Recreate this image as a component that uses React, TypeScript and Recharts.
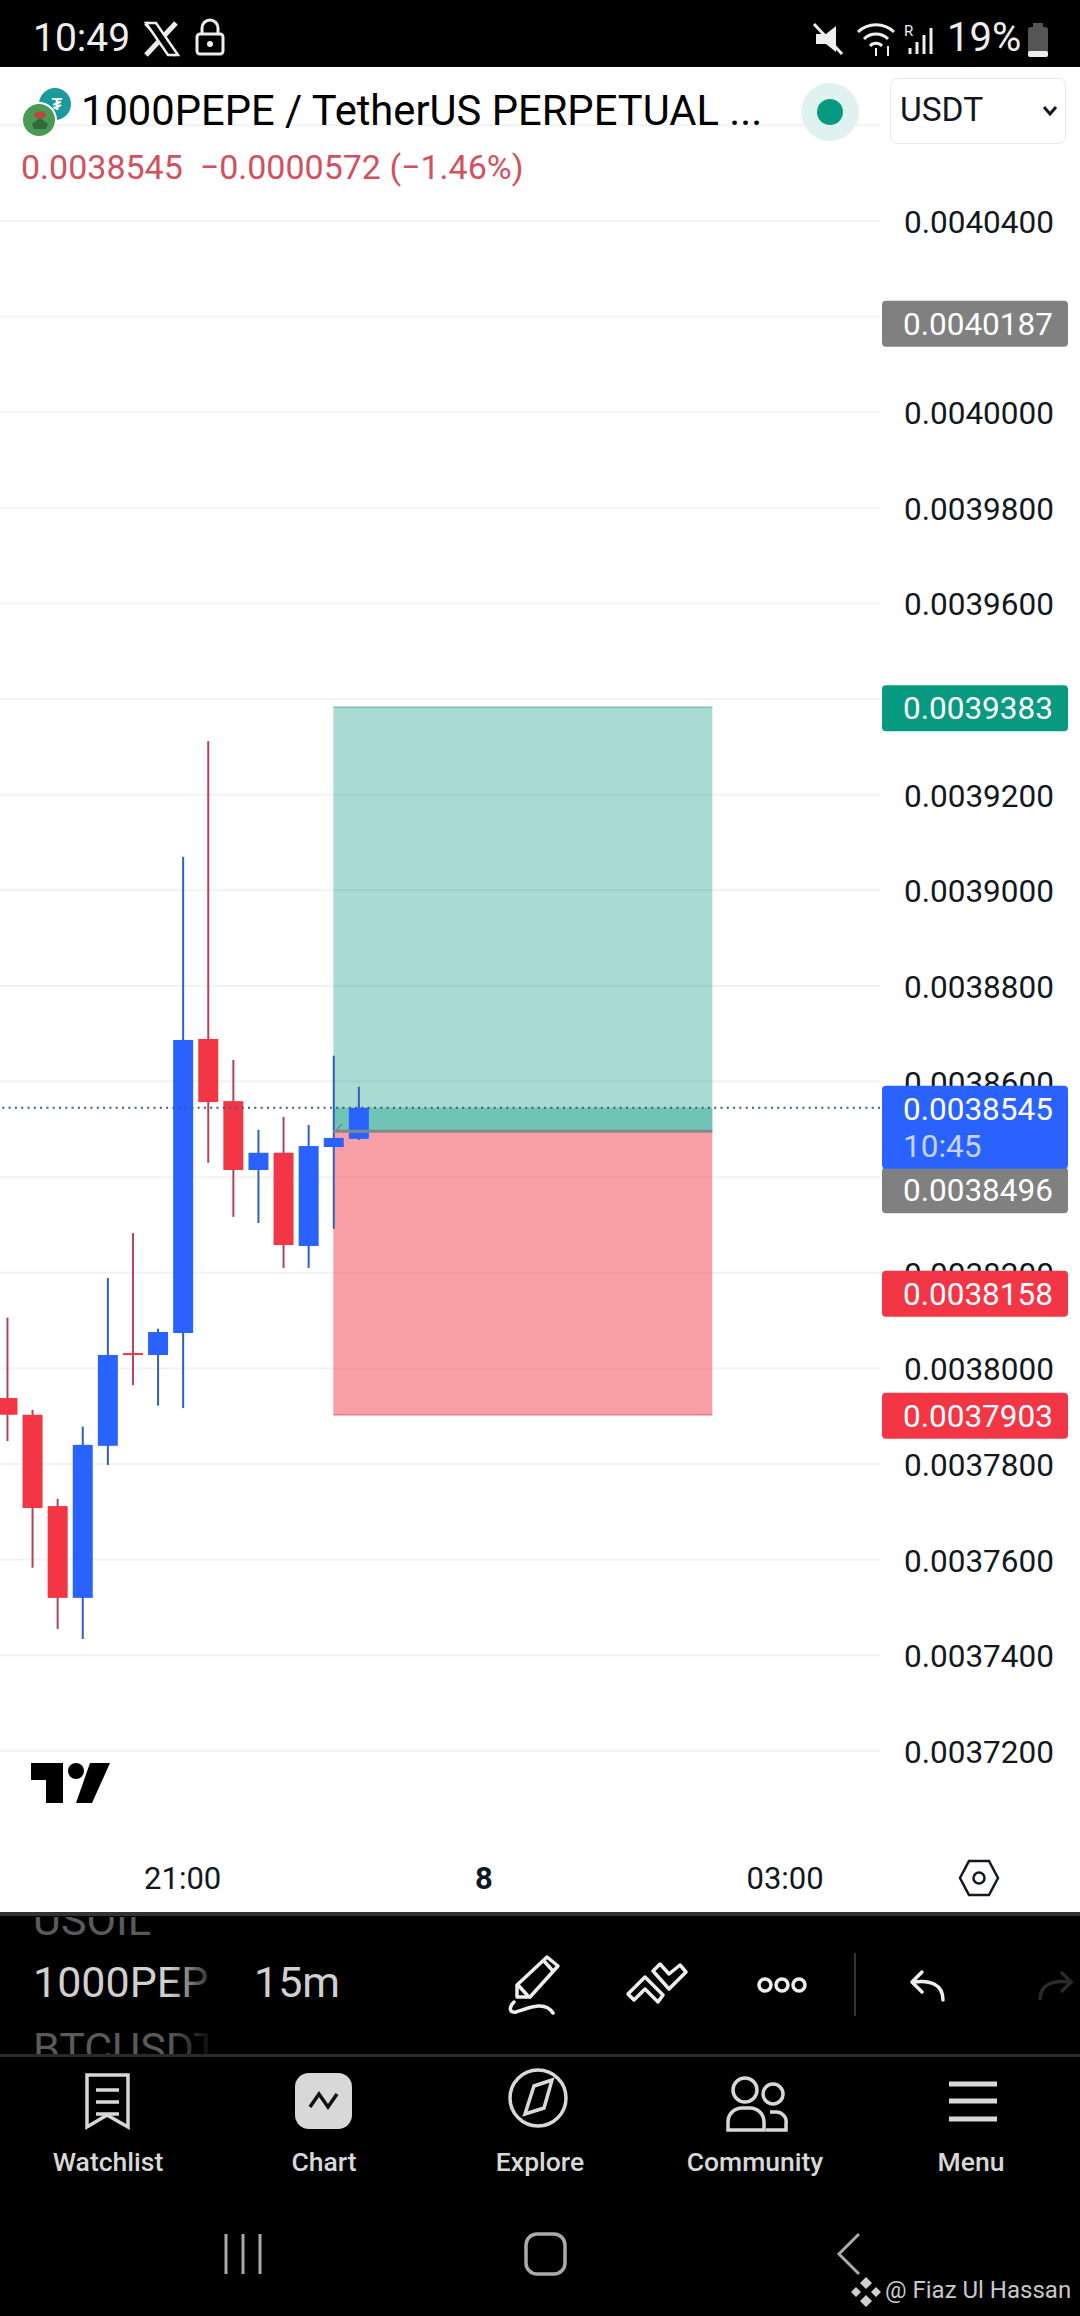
import { ComposedChart, Bar, XAxis, YAxis, CartesianGrid, ReferenceArea, ReferenceLine } from 'recharts';

const FONT = 'Roboto, sans-serif';

const barIndexes = [0, 1, 2, 3, 4, 5, 6, 7, 8, 9, 10, 11, 12, 13, 14];
const opens = [0.0037938, 0.0037903, 0.0037712, 0.003752, 0.0037838, 0.0038032, 0.0038028, 0.0038074, 0.0038689, 0.0038559, 0.0038415, 0.0038451, 0.0038256, 0.0038463, 0.003848];
const closes = [0.0037903, 0.0037708, 0.003752, 0.003784, 0.0038028, 0.0038028, 0.0038076, 0.0038687, 0.0038557, 0.0038415, 0.0038451, 0.0038258, 0.0038465, 0.0038482, 0.0038545];
const highs = [0.0038106, 0.0037913, 0.0037727, 0.0037878, 0.0038189, 0.0038283, 0.0038083, 0.003907, 0.0039312, 0.0038645, 0.0038499, 0.0038526, 0.0038509, 0.0038654, 0.0038589];
const lows = [0.0037848, 0.0037583, 0.0037455, 0.0037434, 0.0037798, 0.0037965, 0.0037922, 0.0037917, 0.003843, 0.0038317, 0.0038304, 0.003821, 0.003821, 0.0038292, 0.0038478];

const priceTicks = [0.00372, 0.00374, 0.00376, 0.00378, 0.0038, 0.00382, 0.00384, 0.00386, 0.00388, 0.0039, 0.00392, 0.00394, 0.00396, 0.00398, 0.004, 0.00402, 0.00404, 0.00406];
// these sit fully behind a price badge or the currency box in the reference
const coveredTicks = [0.00384, 0.00394, 0.00402, 0.00406];
const timeTicks = [7, 19, 31];
const timeLabels = ['21:00', '8', '03:00'];

const currentPrice = 0.0038545;
const entryPrice = 0.0038496;
const targetPrice = 0.0039383;
const stopPrice = 0.0037903;
const lastHigh = 0.0040187;
const breakEven = 0.0038158;
const toolStart = 13;
const toolEnd = 28.1;

const priceDomain = [0.0037001, 0.0040722];

const candles = barIndexes.map((i) => ({ i, open: opens[i], close: closes[i], high: highs[i], low: lows[i] }));

const UP = '#2962ff';
const DOWN = '#f23645';

const Candle = (props: any) => {
  const { x, y, width, height, payload } = props;
  const k = height / (payload.high - payload.low);
  const up = payload.close >= payload.open;
  const top = y + (payload.high - Math.max(payload.open, payload.close)) * k;
  const h = Math.max(Math.abs(payload.close - payload.open) * k, 2);
  return (
    <g>
      <rect x={x + width / 2 - 1} y={y} width={2} height={height} fill={up ? '#2f5fc0' : '#b0455a'} />
      <rect x={x} y={top} width={width} height={h} fill={up ? UP : DOWN} />
    </g>
  );
};

const PriceBadge = (props: any) => {
  const { viewBox, text, sub, fill, shift = 0 } = props;
  const y = viewBox.y + shift + 1;
  const h = sub ? 83 : 46;
  return (
    <g fontFamily={FONT} fontSize={31.5}>
      <rect x={882} y={y - 23} width={186} height={h} rx={4} fill={fill} />
      <text x={903} y={y + 11} fill="#fff">{text}</text>
      {sub && <text x={903} y={y + 48} fill="#c6d4ff">{sub}</text>}
    </g>
  );
};

const PriceTick = (props: any) => {
  const { x, y, payload } = props;
  if (coveredTicks.includes(payload.value)) return <g />;
  return (
    <text x={x} y={y + 12} textAnchor="start" fontFamily={FONT} fontSize={31.5} fill="#131722">
      {payload.value.toFixed(7)}
    </text>
  );
};

const TimeTick = (props: any) => {
  const { x, y, payload } = props;
  const label = timeLabels[timeTicks.indexOf(payload.value)];
  return (
    <text x={x} y={y + 3} textAnchor="middle" fontFamily={FONT} fontSize={31} fontWeight={label === '8' ? 700 : 400} fill="#131722">
      {label}
    </text>
  );
};

const Header = () => (
  <>
    <div style={{ position: 'absolute', left: 0, top: 0, width: 1080, height: 67, background: '#000' }} />
    <div style={{ position: 'absolute', left: 33, top: 16, color: '#eee', fontFamily: FONT, fontSize: 39, lineHeight: '44px' }}>10:49</div>
    <div style={{ position: 'absolute', left: 947, top: 16, color: '#eee', fontFamily: FONT, fontSize: 40, lineHeight: '44px' }}>19%</div>
    <svg width={1080} height={240} style={{ position: 'absolute', left: 0, top: 0 }}>
      <path d="M146 23 L176 55 M176 23 L146 55" stroke="#eee" strokeWidth={5} />
      <path d="M146 23 L156 23 L178 55 L168 55 Z" fill="#000" stroke="#eee" strokeWidth={2.5} />
      <rect x={197} y={34} width={26} height={20} rx={3} fill="none" stroke="#eee" strokeWidth={3} />
      <path d="M202 34 V28 a8 8 0 0 1 16 0 V34" fill="none" stroke="#eee" strokeWidth={3} />
      <circle cx={210} cy={44} r={3} fill="#eee" />
      <path d="M816 34 L826 34 L836 26 V52 L826 44 L816 44 Z" fill="#eee" />
      <path d="M814 24 L842 54" stroke="#eee" strokeWidth={3} />
      <path d="M858 32 a26 26 0 0 1 36 0 M864 39 a17 17 0 0 1 24 0 M870 46 a8 8 0 0 1 12 0" fill="none" stroke="#eee" strokeWidth={3} />
      <path d="M876 48 V56 M888 56 V46" stroke="#eee" strokeWidth={2} />
      <text x={904} y={36} fill="#eee" fontFamily={FONT} fontSize={15}>R</text>
      <path d="M910 54 V48 M917 54 V42 M924 54 V35 M931 54 V28" stroke="#eee" strokeWidth={3} />
      <rect x={1028} y={27} width={20} height={30} rx={3} fill="#555" />
      <rect x={1033} y={23} width={10} height={4} fill="#555" />
      <rect x={1028} y={51} width={20} height={6} rx={2} fill="#eee" />
      {/* symbol icons */}
      <circle cx={55} cy={104} r={16} fill="#1a9a9a" />
      <text x={57} y={110} textAnchor="middle" fontFamily={FONT} fontWeight={700} fontSize={17} fill="#fff">₮</text>
      <circle cx={39} cy={120} r={17} fill="#4a9a55" stroke="#fff" strokeWidth={2} />
      <ellipse cx={40} cy={115} rx={6} ry={3.5} fill="#c0443c" />
      <path d="M32 124 L40 118 L48 124 L46 129 H34 Z" fill="#2f6b3a" />
      <circle cx={830} cy={112} r={29} fill="#e0f2ef" />
      <circle cx={830} cy={112} r={13} fill="#089981" />
    </svg>
    <div style={{ position: 'absolute', left: 81, top: 85, width: 700, color: '#000', fontFamily: FONT, fontSize: 41.7, lineHeight: '52px', whiteSpace: 'nowrap' }}>
      1000PEPE / TetherUS PERPETUAL ...
    </div>
    <div style={{ position: 'absolute', left: 21, top: 147, color: '#d4505f', fontFamily: FONT, fontSize: 34, lineHeight: '40px', whiteSpace: 'pre' }}>
      {'0.0038545  −0.0000572 (−1.46%)'}
    </div>
    <div style={{ position: 'absolute', left: 890, top: 78, width: 176, height: 66, boxSizing: 'border-box', background: '#fff', border: '1.5px solid #e6e8ec', borderRadius: 8 }}>
      <div style={{ position: 'absolute', left: 9, top: 12, fontFamily: FONT, fontSize: 33.5, lineHeight: '38px', color: '#131722' }}>USDT</div>
      <svg width={16} height={12} style={{ position: 'absolute', left: 151, top: 26 }}>
        <path d="M2 2 L8 9 L14 2" fill="none" stroke="#131722" strokeWidth={3} />
      </svg>
    </div>
  </>
);

const navLabels = [
  { label: 'Watchlist', x: 108 },
  { label: 'Chart', x: 324 },
  { label: 'Explore', x: 540 },
  { label: 'Community', x: 755 },
  { label: 'Menu', x: 971 },
];

const Footer = () => (
  <svg width={1080} height={404} style={{ position: 'absolute', left: 0, top: 1912 }}>
    <rect width={1080} height={404} fill="#000" />
    <rect width={1080} height={4} fill="#333" />
    <defs>
      <linearGradient id="fade" gradientUnits="userSpaceOnUse" x1="33" x2="208" y1="0" y2="0">
        <stop offset="0.78" stopColor="#d0d0d0" />
        <stop offset="1" stopColor="#333" />
      </linearGradient>
      <linearGradient id="fadeDim" gradientUnits="userSpaceOnUse" x1="33" x2="208" y1="0" y2="0">
        <stop offset="0.78" stopColor="#5a5a5a" />
        <stop offset="1" stopColor="#111" />
      </linearGradient>
      <clipPath id="ticker"><rect x={0} y={5} width={208} height={137} /></clipPath>
    </defs>
    <g fontFamily={FONT} fontSize={43} clipPath="url(#ticker)">
      <text x={33} y={23} fill="url(#fadeDim)">USOIL</text>
      <text x={33} y={85} fill="url(#fade)">1000PEPE</text>
      <text x={33} y={151} fill="url(#fadeDim)">BTCUSDT</text>
    </g>
    <text x={254} y={85} fontFamily={FONT} fontSize={43} fill="#d0d0d0">15m</text>

    {/* drawing tools */}
    <g fill="none" stroke="#eee" strokeWidth={3.5} strokeLinejoin="round" strokeLinecap="round">
      <path d="M517 73 L547 45 L558 54 L530 85 L517 85 Z" />
      <path d="M544 49 L553 59 M518 73 L528 84" />
      <path d="M514 90 C508 96 510 101 516 100 C528 96 545 88 553 101" />
      <path d="M628 82 L645 65 L663 83 L658 90 L645 77 L634 88 Z" />
      <path d="M653 59 L660 52 L669 62 L680 53 L686 60 L669 77 Z" />
      <circle cx={765} cy={73} r={6} />
      <circle cx={782} cy={73} r={6} />
      <circle cx={799} cy={73} r={6} />
      <path d="M943 88 C943 72 930 68 914 70 M922 60 L912 70 L922 80" />
    </g>
    <rect x={854} y={41} width={2} height={63} fill="#333" />
    <path d="M1040 88 C1040 72 1053 68 1069 70 M1061 60 L1071 70 L1061 80" fill="none" stroke="#2a2a2a" strokeWidth={3.5} />
    <rect y={142} width={1080} height={3} fill="#2a2a2a" />

    {/* nav icons */}
    <g fill="none" stroke="#d8d8d8" strokeWidth={3.5}>
      <path d="M87 163 H128 V215 L107 203 L87 215 Z" />
      <path d="M96 178 H119 M96 190 H119 M96 202 H119" />
      <circle cx={538} cy={186} r={28} />
      <path d="M525 202 L534 174 L552 168 L544 196 Z" />
      <circle cx={745} cy={178} r={12} />
      <circle cx={773} cy={182} r={10} />
      <path d="M728 218 V210 A14 14 0 0 1 742 196 H750 A14 14 0 0 1 764 210 V218 Z" />
      <path d="M770 200 H776 A10 10 0 0 1 786 212 V218 H766" />
    </g>
    <rect x={295} y={161} width={57} height={56} rx={14} fill="#d8d8d8" />
    <path d="M310 195 L319 182 L328 195 L337 182" fill="none" stroke="#111" strokeWidth={3.5} />
    <path d="M949 172 H997 M949 189 H997 M949 207 H997" stroke="#d8d8d8" strokeWidth={5} />
    {navLabels.map((n) => (
      <text key={n.label} x={n.x} y={259} textAnchor="middle" fontFamily={FONT} fontSize={26.5} fontWeight={500} fill="#d8d8d8">
        {n.label}
      </text>
    ))}

    {/* system bar */}
    <path d="M226 322 V362 M243 322 V362 M260 322 V362" stroke="#aaa" strokeWidth={3} />
    <rect x={526} y={322} width={39} height={40} rx={11} fill="none" stroke="#aaa" strokeWidth={3.5} />
    <path d="M859 322 L839 342 L859 362" fill="none" stroke="#aaa" strokeWidth={3} />

    {/* watermark */}
    <path d="M866 365 L872 371 L866 377 L860 371 Z M856 375 L861 380 L856 385 L851 380 Z M876 375 L881 380 L876 385 L871 380 Z M866 383 L872 389 L866 395 L860 389 Z" fill="#d0d0d0" />
    <text x={885} y={386} fontFamily={FONT} fontSize={24} fill="#c8c8c8">@ Fiaz Ul Hassan</text>
  </svg>
);

const TvLogo = () => (
  <svg width={84} height={42} style={{ position: 'absolute', left: 30, top: 1762 }}>
    <path d="M1 1 H33 V41 H16 V18 H1 Z" fill="#000" />
    <circle cx={46} cy={9} r={8} fill="#000" />
    <path d="M60 1 H80 L62 41 H46 Z" fill="#000" />
  </svg>
);

const SettingsHex = () => (
  <svg width={44} height={40} style={{ position: 'absolute', left: 957, top: 1858 }}>
    <path d="M12 3 H32 L41 20 L32 37 H12 L3 20 Z" fill="none" stroke="#131722" strokeWidth={2.5} />
    <circle cx={22} cy={20} r={5.5} fill="none" stroke="#131722" strokeWidth={2.5} />
  </svg>
);

export default function App() {
  return (
    <div style={{ position: 'absolute', left: 0, top: 0, width: 1080, height: 2316, background: '#fff', overflow: 'hidden' }}>
      <div style={{ position: 'absolute', left: 0, top: 0 }}>
        <ComposedChart width={1080} height={1912} data={candles} margin={{ top: 67, right: 0, bottom: 0, left: 0 }}>
          <CartesianGrid horizontal vertical={false} stroke="#f1f2f5" strokeWidth={2} horizontalValues={priceTicks} />
          <XAxis
            dataKey="i"
            type="number"
            domain={[-0.279, 34.78]}
            ticks={timeTicks}
            interval={0}
            axisLine={false}
            tickLine={false}
            height={66}
            tick={<TimeTick />}
            tickMargin={34}
            allowDataOverflow
          />
          <YAxis
            orientation="right"
            type="number"
            domain={priceDomain}
            ticks={priceTicks}
            interval={0}
            width={200}
            axisLine={false}
            tickLine={false}
            tickMargin={18}
            tick={<PriceTick />}
            allowDataOverflow
          />
          <ReferenceArea x1={toolStart} x2={toolEnd} y1={entryPrice} y2={targetPrice} fill="#089981" fillOpacity={0.35} stroke="none" />
          <ReferenceArea x1={toolStart} x2={toolEnd} y1={stopPrice} y2={entryPrice} fill="#f23645" fillOpacity={0.47} stroke="none" />
          <ReferenceArea x1={toolStart} x2={toolEnd} y1={entryPrice} y2={currentPrice} fill="#089981" fillOpacity={0.35} stroke="none" />
          <ReferenceLine segment={[{ x: toolStart, y: targetPrice }, { x: toolEnd, y: targetPrice }]} stroke="#7cc6b6" strokeWidth={1.5} />
          <ReferenceLine segment={[{ x: toolStart, y: stopPrice }, { x: toolEnd, y: stopPrice }]} stroke="#ea7d87" strokeWidth={1.5} />
          <ReferenceLine segment={[{ x: toolStart, y: entryPrice }, { x: toolEnd, y: entryPrice }]} stroke="#7f8a87" strokeWidth={3} />
          <ReferenceLine segment={[{ x: toolStart + 0.1, y: entryPrice }, { x: toolStart + 0.35, y: 0.0038512 }]} stroke="#7f8a87" strokeWidth={1.5} />
          <ReferenceLine y={currentPrice} stroke="#2f5f8f" strokeWidth={2} strokeDasharray="2 4.3" />
          <Bar dataKey={(d: any) => [d.low, d.high]} barSize={20} shape={<Candle />} isAnimationActive={false} />
        </ComposedChart>
      </div>
      {/* badges sit in their own layer so they cover the axis labels */}
      <div style={{ position: 'absolute', left: 0, top: 0 }}>
        <ComposedChart width={1080} height={1912} data={candles} margin={{ top: 67, right: 200, bottom: 66, left: 0 }}>
          <XAxis dataKey="i" type="number" domain={[-0.279, 34.78]} hide />
          <YAxis type="number" domain={priceDomain} hide allowDataOverflow />
          <ReferenceLine y={lastHigh} stroke="none" label={<PriceBadge text={lastHigh.toFixed(7)} fill="#808080" />} />
          <ReferenceLine y={targetPrice} stroke="none" label={<PriceBadge text={targetPrice.toFixed(7)} fill="#089981" />} />
          <ReferenceLine y={entryPrice} stroke="none" label={<PriceBadge text={entryPrice.toFixed(7)} fill="#808080" shift={58} />} />
          <ReferenceLine y={currentPrice} stroke="none" label={<PriceBadge text={currentPrice.toFixed(7)} sub="10:45" fill={UP} />} />
          <ReferenceLine y={breakEven} stroke="none" label={<PriceBadge text={breakEven.toFixed(7)} fill={DOWN} />} />
          <ReferenceLine y={stopPrice} stroke="none" label={<PriceBadge text={stopPrice.toFixed(7)} fill={DOWN} />} />
        </ComposedChart>
      </div>
      <TvLogo />
      <SettingsHex />
      <Header />
      <Footer />
    </div>
  );
}
